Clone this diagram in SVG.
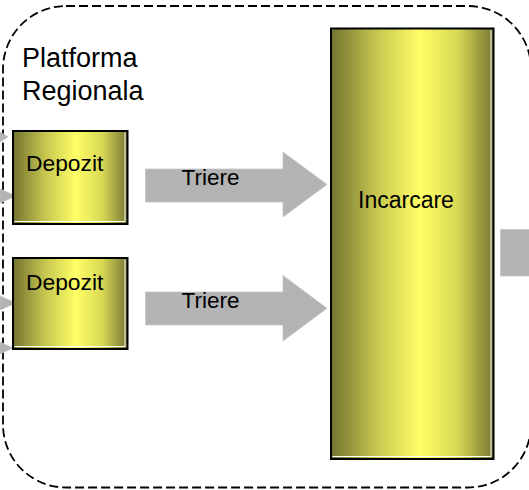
<svg xmlns="http://www.w3.org/2000/svg" width="529" height="490" viewBox="0 0 529 490">
<style>
.lbl{font-family:"Liberation Sans",Arial,sans-serif;fill:#000;}
.box{fill:url(#g);stroke:#000;stroke-width:2;}
.hl{fill:none;stroke:#fff;stroke-width:1;}
.ga{fill:#b3b3b3;stroke:#c4c4c4;stroke-width:0.8;}
</style>
<defs>
<linearGradient id="g" x1="0" y1="0" x2="1" y2="0">
<stop offset="0" stop-color="#737330"/>
<stop offset="0.28" stop-color="#c6c650"/>
<stop offset="0.55" stop-color="#ffff66"/>
<stop offset="0.78" stop-color="#d8d855"/>
<stop offset="1" stop-color="#777733"/>
</linearGradient>
</defs>
<rect width="529" height="490" fill="#fff"/>
<g id="platforma">
<rect x="3" y="6" width="528" height="481.5" rx="63" ry="63" fill="none" stroke="#000" stroke-width="1.8" stroke-dasharray="9 4"/>
<text class="lbl" x="22" y="67" font-size="27">Platforma</text>
<text class="lbl" x="22" y="100" font-size="27">Regionala</text>
</g>
<g id="connectors">
<polygon class="ga" points="0,132 8,137 0,142"/>
<polygon class="ga" points="0,189 16,196 0,203"/>
<polygon class="ga" points="0,296 16,303 0,310"/>
<polygon class="ga" points="0,342 13,348 0,354"/>
<g id="arrow1">
<polygon class="ga" points="145.5,169 283,169 283,152 327,184.5 283,217 283,202 145.5,202"/>
<text class="lbl" x="181.5" y="184.5" font-size="22.5">Triere</text>
</g>
<g id="arrow2">
<polygon class="ga" points="145.5,292 283,292 283,275.5 327,308.3 283,341 283,325 145.5,325"/>
<text class="lbl" x="181.5" y="307.7" font-size="22.5">Triere</text>
</g>
<rect class="ga" x="500.5" y="229.5" width="30" height="46.5"/>
</g>
<g id="depozit1">
<rect class="box" x="13" y="131" width="114.5" height="93"/>
<polyline class="hl" points="14.5,221.5 125,221.5 125,132.5"/>
<text class="lbl" x="26" y="171" font-size="22.8">Depozit</text>
</g>
<g id="depozit2">
<rect class="box" x="13" y="258" width="114.5" height="91"/>
<polyline class="hl" points="14.5,346.5 125,346.5 125,259.5"/>
<text class="lbl" x="26" y="290" font-size="22.8">Depozit</text>
</g>
<g id="incarcare">
<rect class="box" x="331" y="28.5" width="162.5" height="430.5"/>
<polyline class="hl" points="332.5,456.5 491,456.5 491,30"/>
<text class="lbl" x="358" y="208" font-size="23">Incarcare</text>
</g>
</svg>
